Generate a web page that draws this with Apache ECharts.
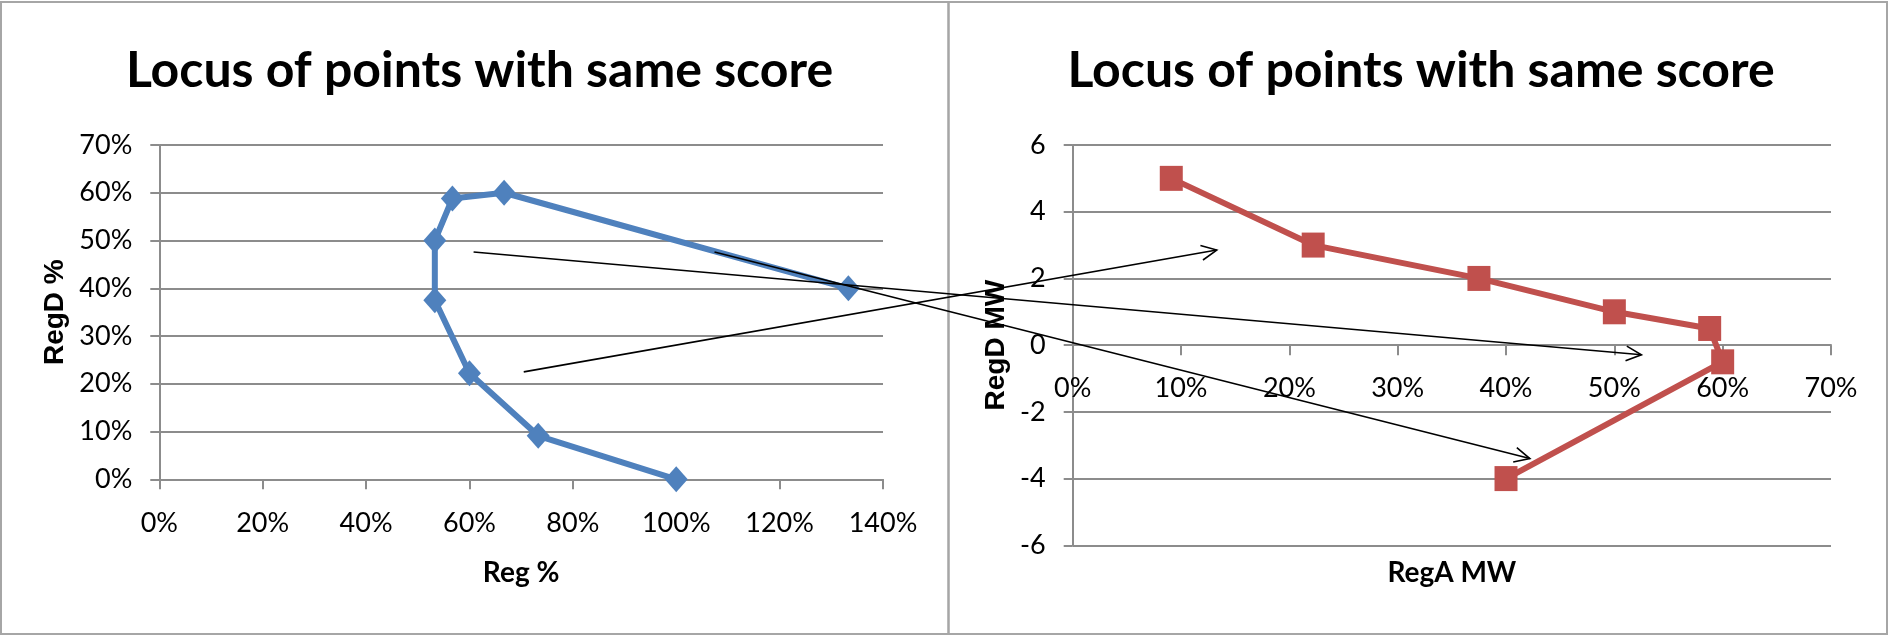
<!DOCTYPE html>
<html>
<head>
<meta charset="utf-8">
<script src="https://cdn.jsdelivr.net/npm/echarts@6/dist/echarts.min.js"></script>
<style>
  html, body { margin: 0; padding: 0; background: #fff; }
  #chart { width: 1889px; height: 635px; }
</style>
</head>
<body>
<div id="chart"></div>
<script>
// left chart: Reg % vs RegD %
const regPct = [100, 73.3, 60, 53.3, 53.3, 56.7, 66.7, 133.3];
const regDPct = [0, 9.1, 22.2, 37.5, 50, 58.8, 60, 40];
// right chart: RegA MW vs RegD MW
const regAMW = [9.1, 22.2, 37.5, 50, 58.8, 60, 40];
const regDMW = [5, 3, 2, 1, 0.5, -0.5, -4];
// arrows: start in left chart (x%, y%) -> end in right chart (x%, MW)
const arrowFrom = [[70.5, 22.5], [60.8, 47.6], [107.4, 47.6]];
const arrowTo = [[13.3, 2.85], [52.5, -0.29], [42.2, -3.4]];

const titleText = "Locus of points with same score";
const narrow = "Lato, 'Liberation Sans', sans-serif";
const wide = "'Liberation Sans', Arial, sans-serif";
const gridGray = "#8c8c8c";

const lineStyleGray = { color: gridGray, width: 2 };
const labelStyle = { color: "#000", fontFamily: narrow, fontSize: 27, lineHeight: 27 };

let chart = echarts.init(document.getElementById("chart"));

const option = {
  animation: false,
  title: [
    {
      text: titleText,
      left: 474.5,
      top: 41,
      textAlign: "center",
      textStyle: { fontFamily: narrow, fontSize: 50, fontWeight: "bold", color: "#000" },
    },
    {
      text: titleText,
      left: 1416,
      top: 41,
      textAlign: "center",
      textStyle: { fontFamily: narrow, fontSize: 50, fontWeight: "bold", color: "#000" },
    },
  ],
  grid: [
    { left: 159.3, right: 1006, top: 145, bottom: 155.7, outerBoundsMode: "none", containLabel: false },
    { left: 1072.7, right: 58, top: 145, bottom: 89.7, outerBoundsMode: "none", containLabel: false },
  ],
  xAxis: [
    {
      gridIndex: 0,
      type: "value",
      min: 0,
      max: 140,
      interval: 20,
      name: "Reg %",
      nameLocation: "middle",
      nameGap: 80,
      nameTextStyle: { fontFamily: narrow, fontSize: 28, fontWeight: "bold", color: "#000" },
      axisLine: { show: true, lineStyle: lineStyleGray },
      axisTick: { show: true, length: 10, lineStyle: lineStyleGray },
      axisLabel: Object.assign({ margin: 30, formatter: "{value}%" }, labelStyle),
      splitLine: { show: false },
    },
    {
      gridIndex: 1,
      type: "value",
      min: 0,
      max: 70,
      interval: 10,
      // axis sits at RegD = 0, half way up the plot
      offset: -200.15,
      name: "RegA MW",
      nameLocation: "middle",
      nameGap: 214,
      nameTextStyle: { fontFamily: narrow, fontSize: 28, fontWeight: "bold", color: "#000" },
      axisLine: { show: true, onZero: false, lineStyle: lineStyleGray },
      axisTick: { show: true, length: 10, lineStyle: lineStyleGray },
      axisLabel: Object.assign({ margin: 30, formatter: "{value}%" }, labelStyle),
      splitLine: { show: false },
    },
  ],
  yAxis: [
    {
      gridIndex: 0,
      type: "value",
      min: 0,
      max: 70,
      interval: 10,
      name: "RegD %",
      nameLocation: "middle",
      nameRotate: 90,
      nameGap: 90,
      nameTextStyle: { fontFamily: wide, fontSize: 28, fontWeight: "bold", color: "#000" },
      axisLine: { show: true, lineStyle: lineStyleGray },
      axisTick: { show: true, length: 9, lineStyle: lineStyleGray },
      axisLabel: Object.assign({ margin: 27, formatter: "{value}%" }, labelStyle),
      splitLine: { show: true, lineStyle: lineStyleGray },
    },
    {
      gridIndex: 1,
      type: "value",
      min: -6,
      max: 6,
      interval: 2,
      name: "RegD MW",
      nameLocation: "middle",
      nameRotate: 90,
      nameGap: 62,
      nameTextStyle: { fontFamily: wide, fontSize: 28, fontWeight: "bold", color: "#000" },
      axisLine: { show: true, onZero: false, lineStyle: lineStyleGray },
      axisTick: { show: true, length: 9, lineStyle: lineStyleGray },
      axisLabel: Object.assign({ margin: 27 }, labelStyle),
      splitLine: { show: true, lineStyle: lineStyleGray },
    },
  ],
  series: [
    {
      type: "line",
      xAxisIndex: 0,
      yAxisIndex: 0,
      data: regPct.map((x, i) => [x, regDPct[i]]),
      symbol: "diamond",
      symbolSize: [23, 26],
      lineStyle: { color: "#4f81bd", width: 6 },
      itemStyle: { color: "#4f81bd" },
    },
    {
      type: "line",
      xAxisIndex: 1,
      yAxisIndex: 1,
      data: regAMW.map((x, i) => [x, regDMW[i]]),
      symbol: "rect",
      symbolSize: [23, 25],
      lineStyle: { color: "#c0504d", width: 6 },
      itemStyle: { color: "#c0504d" },
    },
  ],
};
chart.setOption(option);

// chart-area frames and the hand-drawn arrows between the two charts
const graphics = [
  {
    type: "rect",
    shape: { x: 1, y: 2, width: 947.5, height: 632 },
    style: { fill: null, stroke: "#a6a6a6", lineWidth: 2 },
    z: 0,
  },
  {
    type: "rect",
    shape: { x: 948.5, y: 2, width: 938.5, height: 632 },
    style: { fill: null, stroke: "#a6a6a6", lineWidth: 2 },
    z: 0,
  },
];
arrowFrom.forEach((p, i) => {
  const a = chart.convertToPixel({ gridIndex: 0 }, p);
  const b = chart.convertToPixel({ gridIndex: 1 }, arrowTo[i]);
  const ang = Math.atan2(b[1] - a[1], b[0] - a[0]);
  const len = 17, spread = 0.45;
  const p1 = [b[0] - len * Math.cos(ang - spread), b[1] - len * Math.sin(ang - spread)];
  const p2 = [b[0] - len * Math.cos(ang + spread), b[1] - len * Math.sin(ang + spread)];
  graphics.push({
    type: "line",
    shape: { x1: a[0], y1: a[1], x2: b[0], y2: b[1] },
    style: { stroke: "#000", lineWidth: 1.6 },
    z: 100,
  });
  graphics.push({
    type: "polyline",
    shape: { points: [p1, b, p2] },
    style: { stroke: "#000", lineWidth: 1.6, fill: null },
    z: 100,
  });
});
chart.setOption({ graphic: graphics });
</script>
</body>
</html>
